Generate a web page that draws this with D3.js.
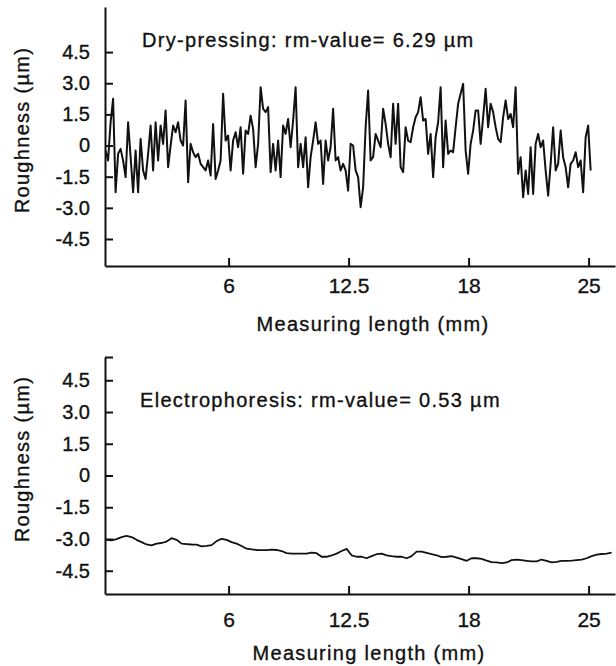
<!DOCTYPE html>
<html>
  <head>
    <meta charset="utf-8">
    <title>Roughness profiles</title>
    <style>
    body { margin: 0; background: #fff; }
    svg { display: block; }
    text {
      font-family: "Liberation Sans", Arial, Helvetica, sans-serif;
      fill: #111;
      stroke: #111;
      stroke-width: 0.35px;
    }
    .axis path, .axis line {
      stroke: #111;
      stroke-width: 2px;
    }
    .axis text { fill: #111; }
    .trace {
      fill: none;
      stroke: #111;
      stroke-linejoin: round;
    }
    .label { font-size: 20px; letter-spacing: 1.3px; }
    </style>
  </head>
  <body>
    <script src="https://d3js.org/d3.v7.min.js"></script>
    <script>

    // x runs in tick spacings, the printed tick labels are uneven
    var xTicks = [1, 2, 3, 4];
    var xTickLabels = ["6", "12.5", "18", "25"];
    var yTicks = [4.5, 3.0, 1.5, 0, -1.5, -3.0, -4.5];
    var yTickLabels = ["4.5", "3.0", "1.5", "0", "-1.5", "-3.0", "-4.5"];

    var xTitle = "Measuring length (mm)";
    var yTitle = "Roughness (\u00b5m)";

    var dryLabel = "Dry-pressing: rm-value= 6.29 \u00b5m";
    var dryExtent = [-0.025, 4.017];
    var dryValues = [
      -0.24, -0.72, 1.12, 2.25, -2.25, -0.40, -0.16, -0.72, -1.52, 1.12,
      -0.56, -2.25, -0.24, -2.25, 0.32, -1.20, -1.61, -0.40, 0.96, -1.20,
      1.12, -0.72, 0.96, 0.08, 1.69, -1.04, 0.00, 0.96, 0.64, 1.12,
      0.24, 0.00, 2.17, -1.77, 0.08, -0.32, -0.56, -0.40, -0.88, -1.04,
      -1.20, -0.72, -1.44, 1.04, -1.61, -1.20, -0.72, 2.49, 0.24,
      0.48, -1.20, 0.24, 0.64, -0.08, 0.88, -1.36, 0.72, 0.56, 1.44,
      0.80, -1.04, 0.08, 2.81, 1.77, 1.61, 1.85, -1.28, 0.08, -1.20,
      0.24, -1.52, 0.96, 0.56, 1.28, -0.08, 1.20, 2.81, -1.04, 0.08,
      -1.04, 0.40, -2.01, -0.56, 0.24, 1.12, 0.08, 0.24, -1.85, 0.24,
      -0.72, -0.08, 1.77, -0.72, -0.56, -1.20, -0.88, -1.20, -2.17, 0.08,
      0.00, -1.20, -1.52, -2.97, -2.01, 0.88, 2.65, -0.72, -0.56, 0.56,
      0.24, -0.08, 1.77, 1.04, 0.08, -0.56, 2.01, 0.08, 2.01, -1.04,
      -1.28, 0.88, 0.24, 0.16, 0.88, 1.36, 1.61, 2.33, 1.20, 1.28,
      -0.40, 0.56, -1.52, 0.40, 1.12, 2.81, -1.04, 1.20, -0.40, -0.24,
      -0.32, 0.88, 2.01, 2.49, 2.97, -0.24, -1.36, 0.08, 0.72, 1.69,
      1.69, 0.08, 1.36, 2.73, 0.88, 2.01, 1.61, 0.88, 0.32, 0.16,
      1.36, 2.17, 1.28, 1.52, 0.88, 2.81, -1.36, -0.56, -2.49, -1.20,
      -2.33, -0.08, -2.33, 0.08, 0.56, -0.08, 0.24, -1.20, -2.41, -0.88,
      0.88, -1.20, -0.88, 0.72, -0.56, -1.04, -2.01, -0.88, -0.72, -0.32,
      -1.04, -0.72, -2.25, 0.40, 0.96, -1.20
    ];

    var elecLabel = "Electrophoresis: rm-value= 0.53 \u00b5m";
    var elecExtent = [-0.017, 4.192];
    var elecValues = [
      -3.04, -3.07, -3.01, -2.91, -2.85, -2.91, -3.04, -3.15, -3.26, -3.30,
      -3.22, -3.19, -3.12, -2.96, -3.04, -3.22, -3.24, -3.26, -3.27, -3.35,
      -3.33, -3.29, -3.10, -2.99, -3.04, -3.15, -3.22, -3.33, -3.46, -3.49,
      -3.52, -3.53, -3.53, -3.50, -3.52, -3.57, -3.67, -3.69, -3.69, -3.69,
      -3.69, -3.64, -3.67, -3.84, -3.84, -3.78, -3.69, -3.57, -3.47, -3.77,
      -3.84, -3.84, -3.91, -3.81, -3.72, -3.69, -3.77, -3.81, -3.84, -3.84,
      -3.91, -3.81, -3.60, -3.60, -3.66, -3.72, -3.77, -3.86, -3.84, -3.81,
      -3.88, -3.95, -4.03, -3.91, -3.91, -3.94, -4.02, -4.09, -4.11, -4.14,
      -4.11, -4.00, -3.98, -4.00, -4.03, -4.06, -4.06, -3.97, -4.03, -4.11,
      -4.08, -4.03, -4.03, -4.02, -4.00, -3.98, -3.91, -3.81, -3.74, -3.71,
      -3.69, -3.64
    ];

    var width = 616,
        height = 666;

    var svg = d3.select("body").append("svg")
        .attr("width", width)
        .attr("height", height);

    var x = d3.scaleLinear()
        .domain([-0.03, 4.22])
        .range([105, 615]);

    var panels = [
      { label: dryLabel, values: dryValues, extent: dryExtent,
        yDomain: [-5.8, 6.67], top: 7, bottom: 266, topTick: false,
        pad: 12, labelPos: [142, 47], titleY: 331, titleX: 373, yTitleY: 130, lineW: 2 },
      { label: elecLabel, values: elecValues, extent: elecExtent,
        yDomain: [-5.6, 5.6], top: 357, bottom: 594, topTick: true,
        pad: 18, labelPos: [140, 407], titleY: 660, titleX: 369, yTitleY: 459, lineW: 1.8 }
    ];

    panels.forEach(drawPanel);

    function drawPanel(p) {
      var y = d3.scaleLinear()
          .domain(p.yDomain)
          .range([p.bottom, p.top]);

      var g = svg.append("g");

      var yVals = p.topTick ? yTicks.concat([p.yDomain[1]]) : yTicks;

      var yAxis = d3.axisLeft(y)
          .tickValues(yVals)
          .tickFormat(function(d) {
            var i = yTicks.indexOf(d);
            return i < 0 ? "" : yTickLabels[i];
          })
          .tickSizeInner(-8)
          .tickSizeOuter(0)
          .tickPadding(15);

      g.append("g")
          .attr("class", "axis")
          .attr("transform", "translate(" + x.range()[0] + ",0)")
          .call(yAxis)
          .call(function(s) {
            s.selectAll("text").style("font-size", "20px").style("font-family", null);
          });

      var xAxis = d3.axisBottom(x)
          .tickValues(xTicks)
          .tickFormat(function(d, i) { return xTickLabels[i]; })
          .tickSizeInner(-8)
          .tickSizeOuter(0)
          .tickPadding(p.pad);

      g.append("g")
          .attr("class", "axis")
          .attr("transform", "translate(0," + p.bottom + ")")
          .call(xAxis)
          .call(function(s) {
            s.selectAll("text").style("font-size", "21px").style("font-family", null);
          });

      var step = (p.extent[1] - p.extent[0]) / (p.values.length - 1);
      var line = d3.line()
          .x(function(d, i) { return x(p.extent[0] + i * step); })
          .y(function(d) { return y(d); });

      g.append("path")
          .datum(p.values)
          .attr("class", "trace")
          .attr("stroke-width", p.lineW)
          .attr("d", line);

      g.append("text")
          .attr("class", "label")
          .attr("x", p.labelPos[0])
          .attr("y", p.labelPos[1])
          .text(p.label);

      g.append("text")
          .attr("class", "label")
          .attr("text-anchor", "middle")
          .attr("x", p.titleX)
          .attr("y", p.titleY)
          .text(xTitle);

      g.append("text")
          .attr("class", "label")
          .attr("text-anchor", "middle")
          .attr("transform", "translate(29," + p.yTitleY + ") rotate(-90)")
          .text(yTitle);
    }

    </script>
  </body>
</html>
